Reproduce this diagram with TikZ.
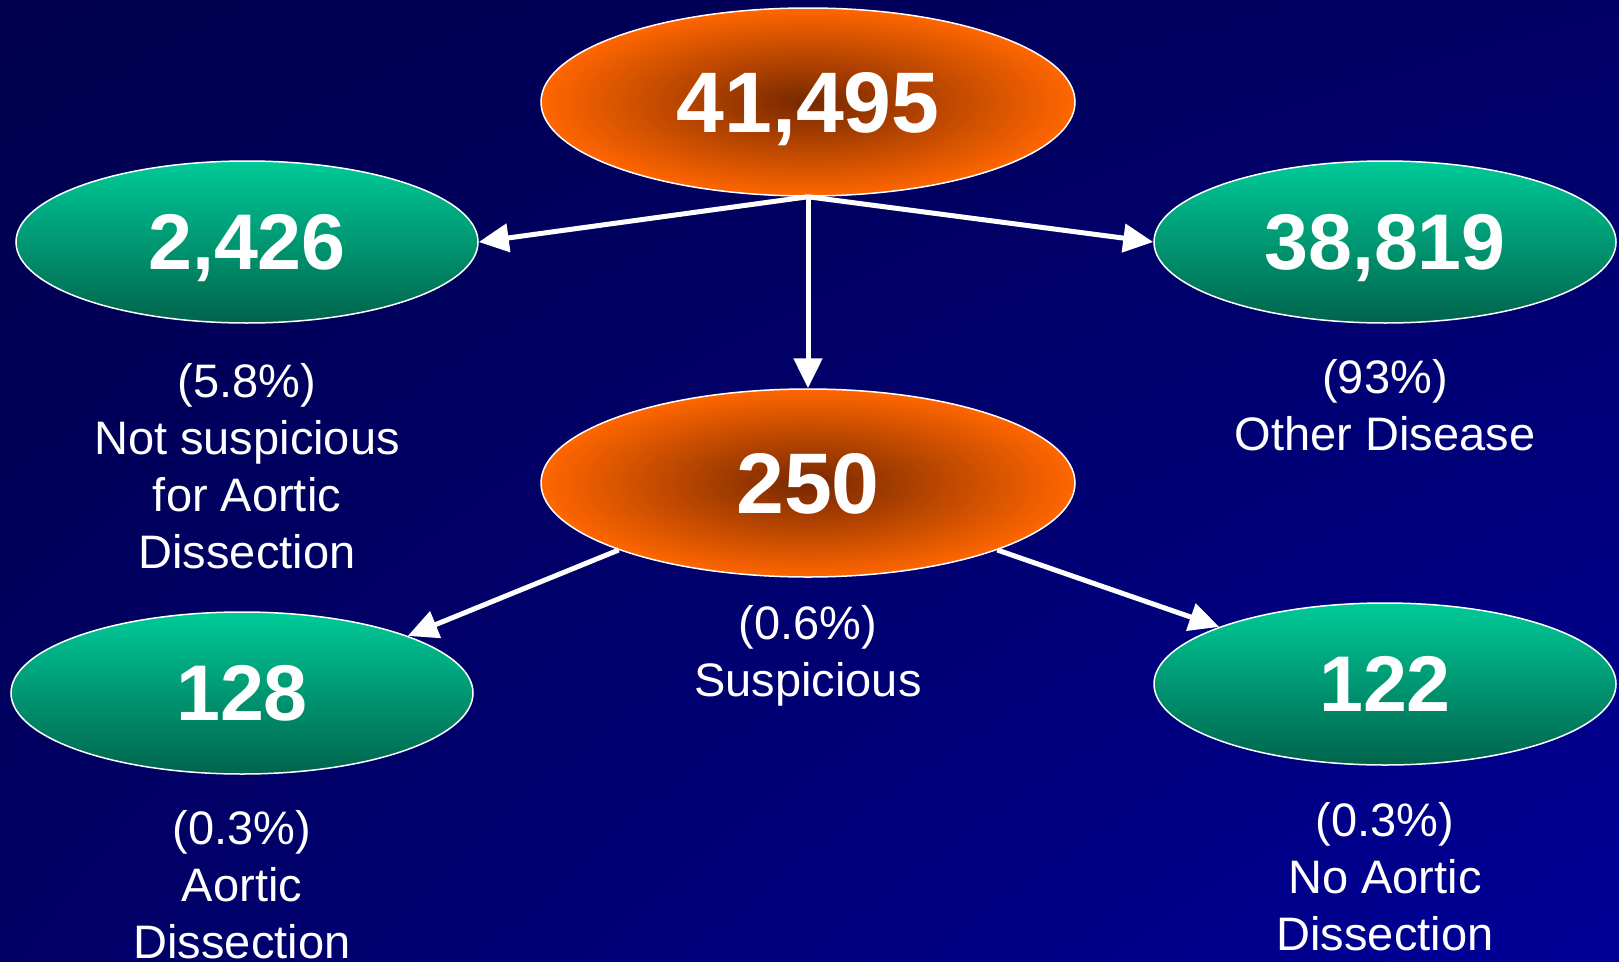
\documentclass[tikz,border=0pt]{standalone}
\usepackage{fontspec}
\setmainfont{Liberation Sans}
\usetikzlibrary{shapes.geometric,arrows.meta,shadings}
\definecolor{bgTL}{RGB}{0,0,78}
\definecolor{bgTR}{RGB}{0,0,100}
\definecolor{bgBL}{RGB}{0,0,100}
\definecolor{bgBR}{RGB}{0,0,152}
\definecolor{orcore}{RGB}{118,40,0}
\definecolor{orout}{RGB}{255,102,0}
\definecolor{grtop}{RGB}{0,202,152}
\definecolor{grbot}{RGB}{0,100,76}
\begin{document}
\begin{tikzpicture}[x=1pt,y=-1pt,
  orangeell/.style={ellipse, draw=white, line width=1.5pt, inner sep=0pt,
    minimum width=534pt, minimum height=188pt, inner color=orcore, outer color=orout,
    text=white, text depth=0pt, font=\fontsize{86}{86}\selectfont\bfseries},
  greenell/.style={ellipse, draw=white, line width=1.5pt, inner sep=0pt,
    minimum width=462pt, minimum height=162pt, top color=grtop, bottom color=grbot,
    text=white, text depth=0pt, font=\fontsize{79}{79}\selectfont\bfseries},
  lbl/.style={text=white, align=center, anchor=north, inner sep=0pt,
    font=\fontsize{47}{57}\selectfont},
  arr/.style={draw=white, line width=5pt, -{Triangle[length=30pt,width=28pt]}}]
\useasboundingbox (0,0) rectangle (1619,961);
\shade[upper left=bgTL, upper right=bgTR, lower left=bgBL, lower right=bgBR] (0,0) rectangle (1619,961);

\node[orangeell] (top) at (808,102) {41,495};
\node[greenell] (l1) at (247,242) {2,426};
\node[greenell] (r1) at (1385,242) {38,819};
\node[orangeell] (mid) at (808,483) {250};
\node[greenell] (l2) at (242,693) {128};
\node[greenell] (r2) at (1385,684) {122};

\node[lbl] (tl1) at (247,363) {(5.8\%)\\Not suspicious\\for Aortic\\Dissection};
\node[lbl] (tr1) at (1385,359) {(93\%)\\Other Disease};
\node[lbl] (tmid) at (808,605) {(0.6\%)\\Suspicious};
\node[lbl] (tl2) at (242,810) {(0.3\%)\\Aortic\\Dissection};
\node[lbl] (tr2) at (1385,802) {(0.3\%)\\No Aortic\\Dissection};

\draw[arr] (top.south) -- (l1.east);
\draw[arr] (top.south) -- (r1.west);
\draw[arr] (top.south) -- (mid.north);
\draw[arr] (mid.south west) -- (l2.19);
\draw[arr] (mid.south east) -- (r2.161);
\end{tikzpicture}
\end{document}
